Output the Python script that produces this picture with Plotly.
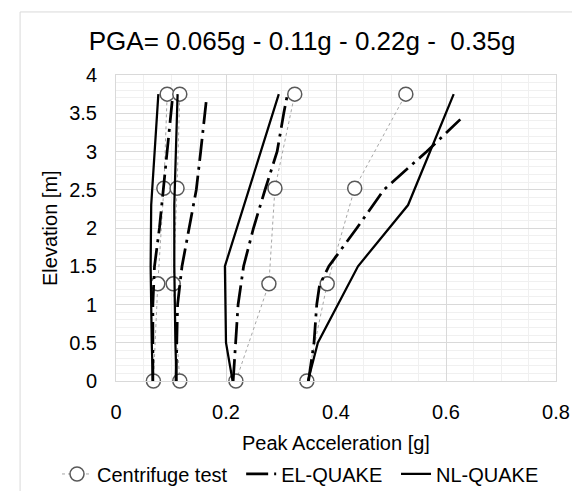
import plotly.graph_objects as go

# ---------------- data ----------------
elev_test = [0, 1.27, 2.52, 3.75]
test_a = [0.068, 0.076, 0.087, 0.093]
test_b = [0.116, 0.104, 0.111, 0.116]
test_c = [0.218, 0.278, 0.289, 0.325]
test_d = [0.347, 0.384, 0.434, 0.527]

elev_el = [0, 0.5, 1.0, 1.5, 2.0, 2.5, 3.0, 3.5, 3.72]
el_a = [0.067, 0.067, 0.067, 0.070, 0.079, 0.086, 0.093, 0.099, 0.103]
el_b = [0.109, 0.110, 0.112, 0.120, 0.133, 0.146, 0.154, 0.161, 0.165]
el_c = [0.213, 0.218, 0.222, 0.232, 0.250, 0.271, 0.293, 0.305, 0.311]
elev_el_d = [0, 0.5, 1.0, 1.25, 1.5, 2.0, 2.5, 3.0, 3.42]
el_d = [0.350, 0.360, 0.365, 0.370, 0.387, 0.438, 0.487, 0.565, 0.626]

elev_nl = [0, 0.5, 1.5, 2.3, 3.75]
nl_a = [0.067, 0.065, 0.063, 0.064, 0.077]
nl_b = [0.110, 0.108, 0.106, 0.106, 0.112]
nl_c = [0.212, 0.200, 0.198, 0.233, 0.296]
nl_d = [0.349, 0.367, 0.440, 0.531, 0.614]

title_text = "PGA= 0.065g - 0.11g - 0.22g - \u00a00.35g"
x_title = "Peak Acceleration [g]"
y_title = "Elevation [m]"
names = ["Centrifuge test", "EL-QUAKE", "NL-QUAKE"]

FONT = "Liberation Sans, Arial, sans-serif"

fig = go.Figure()

# centrifuge test
for i, xs in enumerate([test_a, test_b, test_c, test_d]):
    fig.add_trace(go.Scatter(
        x=xs, y=elev_test, mode="lines+markers", name=names[0],
        legend="legend", legendgroup="t", showlegend=(i == 0), cliponaxis=False,
        line=dict(color="#a6a6a6", width=1, dash="dot"),
        marker=dict(symbol="circle", size=14, color="white",
                    line=dict(color="#595959", width=1.5)),
    ))

# EL-QUAKE
for i, (xs, ys) in enumerate([(el_a, elev_el), (el_b, elev_el), (el_c, elev_el), (el_d, elev_el_d)]):
    fig.add_trace(go.Scatter(
        x=xs, y=ys, mode="lines", name=names[1],
        legend="legend2", legendgroup="e", showlegend=(i == 0),
        line=dict(color="black", width=2.75, dash="22px,6px,3px,6px"),
    ))

# NL-QUAKE
for i, xs in enumerate([nl_a, nl_b, nl_c, nl_d]):
    fig.add_trace(go.Scatter(
        x=xs, y=elev_nl, mode="lines", name=names[2],
        legend="legend3", legendgroup="n", showlegend=(i == 0),
        line=dict(color="black", width=2.25),
    ))

axis_common = dict(
    showline=True, mirror=True, linecolor="#d9d9d9", linewidth=1,
    showgrid=True, gridcolor="#d9d9d9", gridwidth=1,
    zeroline=False, ticks="",
    tickfont=dict(family=FONT, size=20, color="black"),
)

fig.update_xaxes(range=[0, 0.8], dtick=0.2, tick0=0,
                 minor=dict(dtick=0.05, showgrid=True, gridcolor="#f0f0f0"),
                 ticklabelstandoff=13, **axis_common)
fig.update_yaxes(range=[0, 4], dtick=0.5, tick0=0,
                 minor=dict(dtick=0.1, showgrid=True, gridcolor="#f0f0f0"),
                 ticklabelstandoff=14, **axis_common)


def leg(x):
    return dict(orientation="h", xref="container", yref="container",
                x=x, xanchor="left", y=0.051, yanchor="middle",
                font=dict(family=FONT, size=20, color="black"),
                itemwidth=30, bgcolor="rgba(0,0,0,0)")


fig.update_layout(
    width=580, height=491,
    margin=dict(l=108, r=32, t=67, b=118),
    paper_bgcolor="white", plot_bgcolor="white",
    font=dict(family=FONT, color="black"),
    title=dict(text=title_text, x=0.507, xref="container", xanchor="center",
               y=0.933, yref="container", yanchor="middle",
               font=dict(family=FONT, size=26, color="black")),
    legend=leg(0.0845),
    legend2=leg(0.402),
    legend3=leg(0.669),
    annotations=[
        dict(text=x_title, xref="paper", yref="paper", x=0.5, y=-0.203,
             xanchor="center", yanchor="middle", showarrow=False,
             font=dict(family=FONT, size=20, color="black")),
        dict(text=y_title, xref="paper", yref="paper", x=-0.15, y=0.5,
             xanchor="center", yanchor="middle", showarrow=False, textangle=-90,
             font=dict(family=FONT, size=20, color="black")),
    ],
    shapes=[
        dict(type="line", xref="paper", yref="paper", x0=-0.218, x1=-0.218,
             y0=1.206, y1=-0.40, line=dict(color="#d9d9d9", width=1)),
        dict(type="line", xref="paper", yref="paper", x0=-0.218, x1=1.10,
             y0=1.206, y1=1.206, line=dict(color="#d9d9d9", width=1)),
    ],
)

fig.write_html("out.html")
